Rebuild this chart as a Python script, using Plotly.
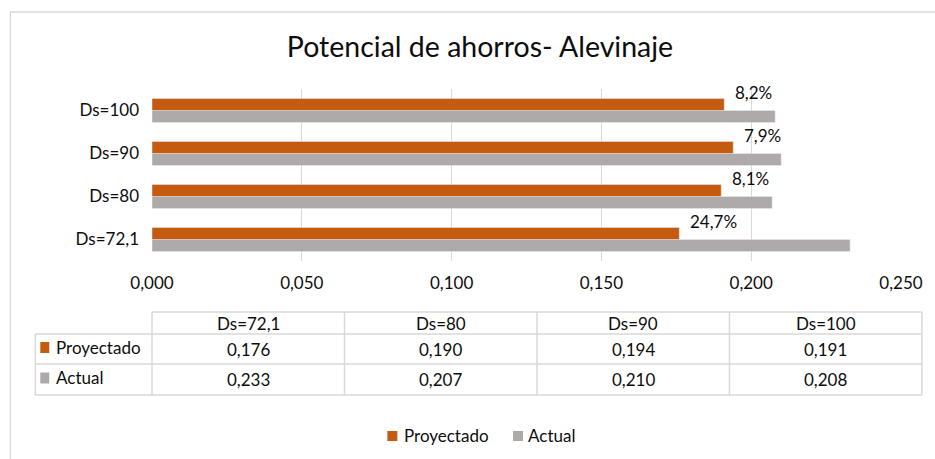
import plotly.graph_objects as go

categories = ["Ds=72,1", "Ds=80", "Ds=90", "Ds=100"]
proyectado = [0.176, 0.190, 0.194, 0.191]
actual = [0.233, 0.207, 0.210, 0.208]
ahorro_labels = ["24,7%", "8,1%", "7,9%", "8,2%"]
x_ticks = [0.0, 0.05, 0.10, 0.15, 0.20, 0.25]
series_names = ["Proyectado", "Actual"]

C_PROY = "#C55A11"
C_ACT = "#AEAAAA"
GRID = "#D9D9D9"
FONT = "Lato"
TXT = "#0D0D0D"
FS = 17

W, H = 935, 459
L, R, T, B = 152, 32, 89, 198
PW, PH = W - L - R, H - T - B

def px(xp):
    return (xp - L) / PW

def py(yp):
    return (H - B - yp) / PH

fig = go.Figure()
fig.add_trace(go.Bar(y=categories, x=actual, orientation="h", name="Actual",
                     marker=dict(color=C_ACT), hoverinfo="x+name"))
fig.add_trace(go.Bar(y=categories, x=proyectado, orientation="h", name="Proyectado",
                     marker=dict(color=C_PROY), hoverinfo="x+name"))

annotations = []
shapes = []

# data labels next to projected bars
for c, v, lab in zip(categories, proyectado, ahorro_labels):
    annotations.append(dict(x=v, y=c, xref="x", yref="y", text=lab, showarrow=False,
                            xanchor="left", yanchor="middle", xshift=9, yshift=18,
                            font=dict(family=FONT, size=FS, color=TXT)))

# chart frame
shapes.append(dict(type="rect", xref="paper", yref="paper",
                   x0=px(10), x1=px(945), y0=py(12), y1=py(470),
                   line=dict(color=GRID, width=1.3), layer="below"))

# data table
col_edges = [152, 345, 538, 731, 924]
row_edges = [312, 334, 364, 395]
lab_left = 35
lw = 1.5
shapes.append(dict(type="line", xref="paper", yref="paper", x0=px(col_edges[0]), x1=px(col_edges[-1]),
                   y0=py(row_edges[0]), y1=py(row_edges[0]), line=dict(color=GRID, width=lw)))
for ry in row_edges[1:]:
    shapes.append(dict(type="line", xref="paper", yref="paper", x0=px(lab_left), x1=px(col_edges[-1]),
                       y0=py(ry), y1=py(ry), line=dict(color=GRID, width=lw)))
for cx in col_edges:
    shapes.append(dict(type="line", xref="paper", yref="paper", x0=px(cx), x1=px(cx),
                       y0=py(row_edges[0]), y1=py(row_edges[-1]), line=dict(color=GRID, width=lw)))
shapes.append(dict(type="line", xref="paper", yref="paper", x0=px(lab_left), x1=px(lab_left),
                   y0=py(row_edges[1]), y1=py(row_edges[-1]), line=dict(color=GRID, width=lw)))

def fmt(v):
    return f"{v:.3f}".replace(".", ",")

for i, c in enumerate(categories):
    cx = (col_edges[i] + col_edges[i + 1]) / 2
    annotations.append(dict(x=px(cx), y=py((row_edges[0] + row_edges[1]) / 2), xref="paper", yref="paper",
                            text=c, showarrow=False, xanchor="center", yanchor="middle",
                            font=dict(family=FONT, size=FS, color=TXT)))
    for r, series in enumerate([proyectado, actual]):
        cy = (row_edges[r + 1] + row_edges[r + 2]) / 2
        annotations.append(dict(x=px(cx), y=py(cy), xref="paper", yref="paper",
                                text=fmt(series[i]), showarrow=False, xanchor="center", yanchor="middle",
                                font=dict(family=FONT, size=FS, color=TXT)))

colors = [C_PROY, C_ACT]
for r, (name, col) in enumerate(zip(series_names, colors)):
    cy = (row_edges[r + 1] + row_edges[r + 2]) / 2 - 2
    shapes.append(dict(type="rect", xref="paper", yref="paper", x0=px(40), x1=px(49),
                       y0=py(cy + 6), y1=py(cy - 5), fillcolor=col, line=dict(width=0)))
    annotations.append(dict(x=px(54), y=py(cy), xref="paper", yref="paper", text=name,
                            showarrow=False, xanchor="left", yanchor="middle",
                            font=dict(family=FONT, size=FS, color=TXT)))

# legend (drawn manually to match compact spacing)
leg_y = 435
for name, col, sx, tx in zip(series_names, colors, [388, 514], [403, 527]):
    shapes.append(dict(type="rect", xref="paper", yref="paper", x0=px(sx), x1=px(sx + 10),
                       y0=py(leg_y + 6), y1=py(leg_y - 4), fillcolor=col, line=dict(width=0)))
    annotations.append(dict(x=px(tx), y=py(leg_y), xref="paper", yref="paper", text=name,
                            showarrow=False, xanchor="left", yanchor="middle",
                            font=dict(family=FONT, size=FS, color=TXT)))

fig.update_layout(
    width=W, height=H,
    margin=dict(l=L, r=R, t=T, b=B),
    paper_bgcolor="white", plot_bgcolor="white",
    separators=",.",
    title=dict(text="Potencial de ahorros- Alevinaje", x=480 / W, xanchor="center",
               y=1 - 47 / H, yanchor="middle",
               font=dict(family=FONT, size=28.5, color=TXT)),
    barmode="group", bargap=0.44, bargroupgap=0,
    showlegend=False,
    xaxis=dict(range=[0, 0.25], tickvals=x_ticks, tickformat=".3f", showgrid=True,
               gridcolor=GRID, gridwidth=1.3, zeroline=False, showline=False,
               ticks="", ticklen=0, ticklabelstandoff=10,
               tickfont=dict(family=FONT, size=FS, color=TXT)),
    yaxis=dict(range=[-0.5, 3.5], showgrid=False, showline=False, ticks="",
               ticklabelstandoff=12, tickfont=dict(family=FONT, size=FS, color=TXT)),
    shapes=shapes, annotations=annotations,
)

fig.write_html("out.html", config={"displayModeBar": False},
               post_script="document.body.style.margin='0';document.body.style.padding='0';")
